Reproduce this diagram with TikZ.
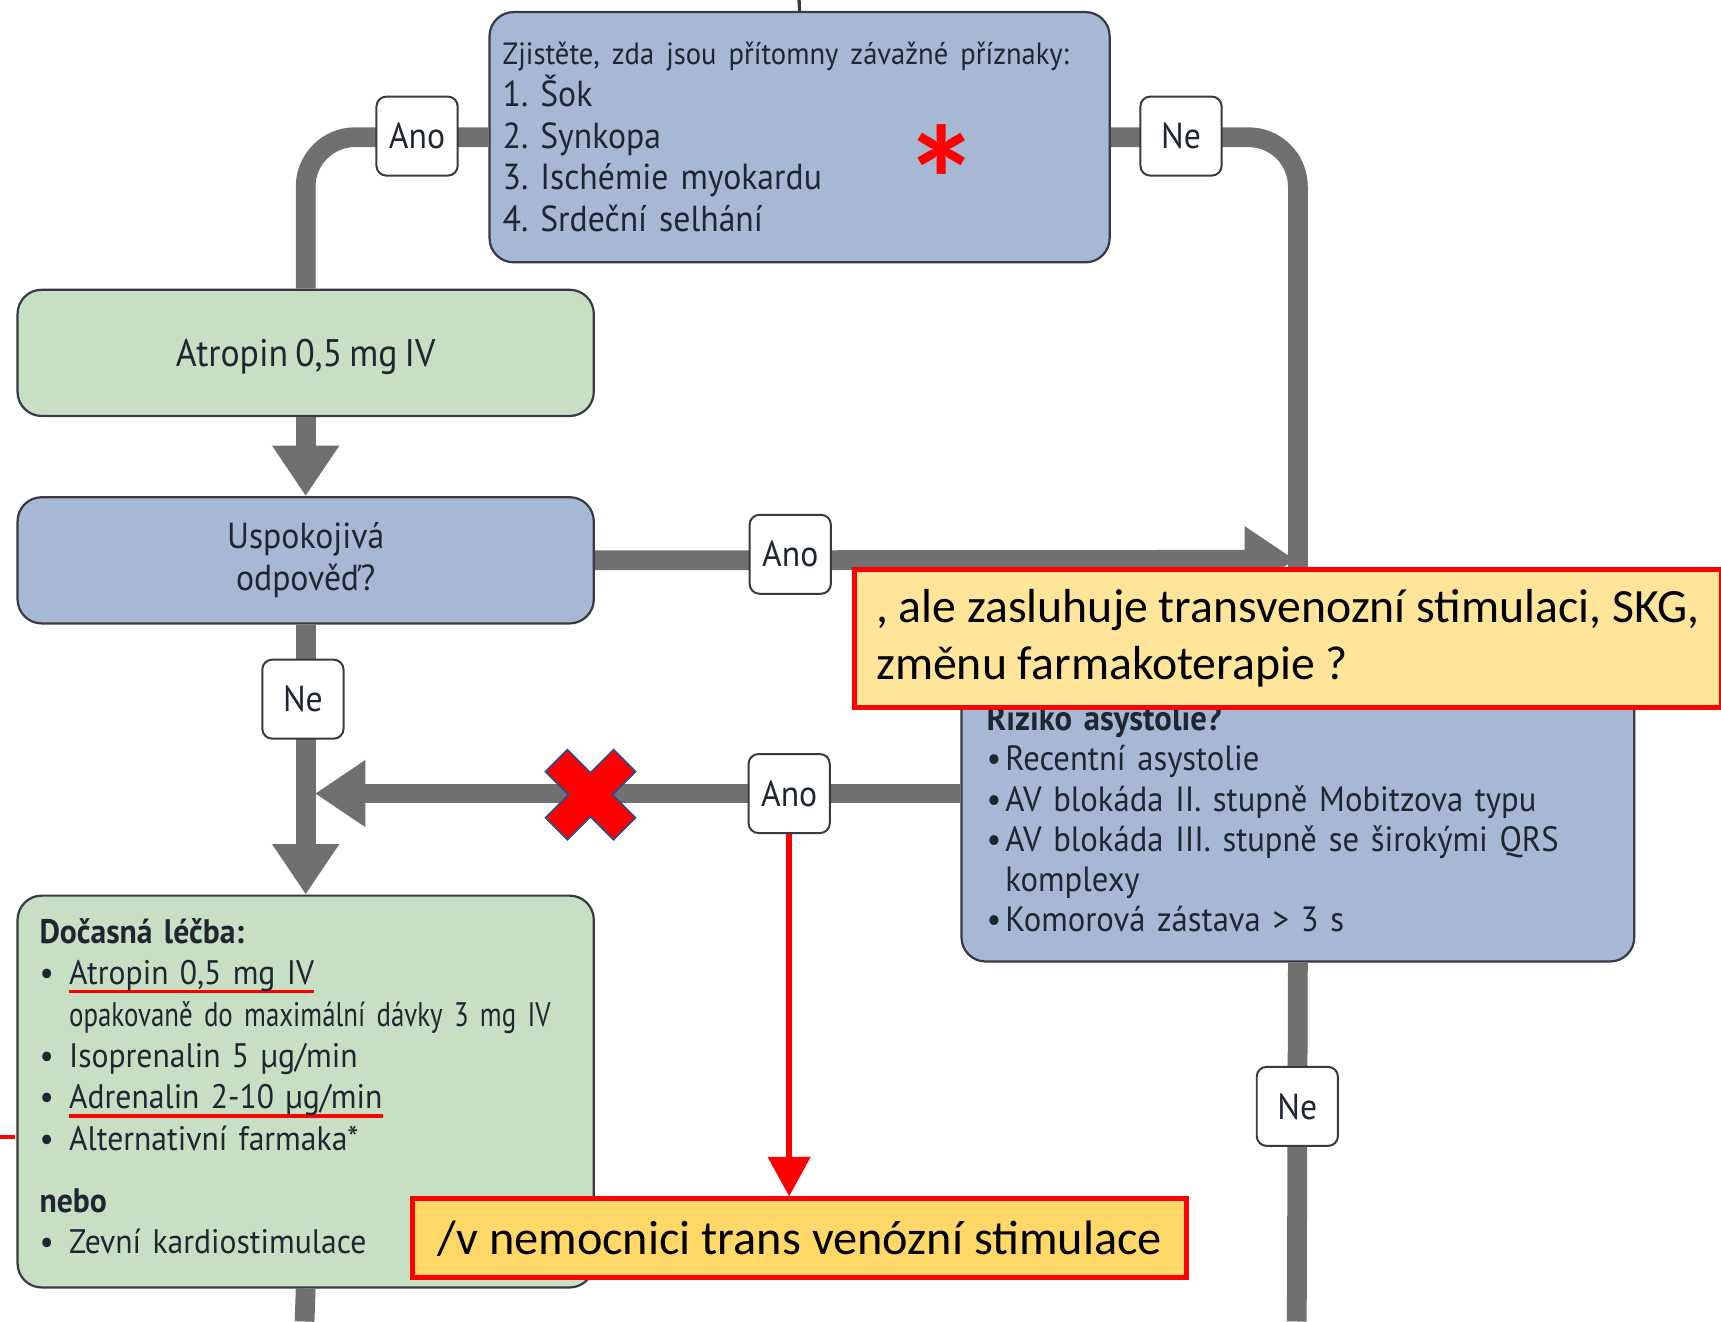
\documentclass[tikz,border=0pt]{standalone}
\usepackage{fontspec}
\usetikzlibrary{arrows.meta}
\newfontfamily\cf[FakeStretch=0.93, WordSpace=0.75]{PT Sans}
\newfontfamily\cfn[FakeStretch=0.79, WordSpace=0.75]{PT Sans}
\newfontfamily\calfont{Carlito}
\definecolor{boxblue}{RGB}{166,184,212}
\definecolor{boxgreen}{RGB}{199,223,195}
\definecolor{connc}{RGB}{112,112,112}
\definecolor{edgec}{RGB}{55,58,66}
\definecolor{txtc}{RGB}{32,37,50}
\definecolor{yelA}{RGB}{255,229,153}
\definecolor{yelB}{RGB}{255,216,104}
\definecolor{xblue}{RGB}{47,75,140}
\newcommand\redul[1]{\setbox0\hbox{#1}\rlap{\color{red}\rule[-8pt]{\wd0}{3pt}}\box0}
\newcommand\bul{\makebox[27pt][l]{\textbullet}}
\newcommand\rbul{\makebox[17pt][l]{\textbullet}}
\frenchspacing
\begin{document}
\begin{tikzpicture}[x=1pt,y=-1pt,
  box/.style={draw=edgec, line width=2pt, rounded corners=22pt, text=txtc,
    anchor=north west, font=\cf\fontsize{33}{38}\selectfont},
  lab/.style={draw=edgec, fill=white, line width=1.8pt, rounded corners=9pt,
    minimum width=74pt, minimum height=72pt, inner sep=0pt, text=txtc,
    font=\cf\fontsize{33}{33}\selectfont},
  flow/.style={draw=connc, line width=18pt},
  tipg/.style={-{Triangle[width=58pt,length=46pt]}},
  note/.style={draw=red, line width=4.5pt, text=black, anchor=north west, align=left},
]
\useasboundingbox (0,0) rectangle (1568,1204);
\fill[white] (0,0) rectangle (1568,1204);

% boxes
\node[box, fill=boxblue, minimum width=565pt, minimum height=228pt,
  inner xsep=12pt, text width=541pt, align=left] (q1) at (445,10)
  {{\fontsize{28}{38}\selectfont Zjistěte, zda jsou přítomny závažné příznaky:}\\
   1. Šok\\ 2. Synkopa\\ 3. Ischémie myokardu\\ 4. Srdeční selhání};
\node[box, fill=boxgreen, minimum width=525pt, minimum height=115pt, text depth=0pt,
  font=\cf\fontsize{35}{38}\selectfont] (atr) at (15,263)
  {Atropin 0,5 mg IV};
\node[box, fill=boxblue, minimum width=525pt, minimum height=115pt, align=center] (usp) at (15,452)
  {Uspokojivá\\ odpověď?};
\node[box, fill=boxgreen, minimum width=525pt, minimum height=357pt,
  inner xsep=20pt, text width=485pt, align=left,
  font=\cf\fontsize{31}{37.7}\selectfont] (doc) at (15,815)
  {\textbf{Dočasná léčba:}\\
   \bul\redul{Atropin 0,5 mg IV}\\
   \hspace*{27pt}{\cfn opakovaně do maximální dávky 3 mg IV}\\
   \bul Isoprenalin 5 µg/min\\
   \bul\redul{Adrenalin 2-10 µg/min}\\
   \bul Alternativní farmaka*\\[19pt]
   \textbf{nebo}\\
   \bul Zevní kardiostimulace\rule[-10pt]{0pt}{10pt}};
\node[box, fill=boxblue, minimum width=613pt, minimum height=260pt,
  inner xsep=23pt, text width=567pt, align=left,
  font=\cf\fontsize{32}{36.6}\selectfont] (riz) at (875,615)
  {\textbf{Riziko asystolie?}\\
   \rbul Recentní asystolie\\
   \rbul AV blokáda II. stupně Mobitzova typu\\
   \rbul AV blokáda III. stupně se širokými QRS\\
   \hspace*{17pt}komplexy\\
   \rbul Komorová zástava > 3 s};

% free ends
\coordinate (tt) at (728,0);
\coordinate (jr) at (1180,510);
\coordinate (jl) at (287,723);
\coordinate (rb) at (1181.5,1204);
\coordinate (db) at (277.5,1204);
\coordinate (lr0) at (0,1036);
\coordinate (lr1) at (14,1036);

% label positions
\path (380,124) coordinate (p1) (1076,124) coordinate (p2) (720,505) coordinate (p3)
      (276,637) coordinate (p4) (719,723) coordinate (p5) (1182,1008) coordinate (p6);

% connectors
\draw[edgec, line width=3pt] (tt) -- (q1.north);
\draw[flow, rounded corners=45pt] (q1.west) -- (q1.west -| atr.north) -- (atr.north);
\draw[flow, rounded corners=45pt] (q1.east) -| (riz.north);
\draw[flow, tipg] (atr.south) -- (usp.north);
\draw[flow, tipg] (usp.east) -- (jr);
\draw[flow, tipg] (usp.south) -- (doc.north);
\draw[flow, tipg] (riz.west |- p5) -- (jl);
\draw[flow] (riz.south) -- (rb);
\draw[flow] (doc.south) -- (db);

% labels
\node[lab] (l1) at (p1) {Ano};
\node[lab] (l2) at (p2) {Ne};
\node[lab] (l3) at (p3) {Ano};
\node[lab] (l4) at (p4) {Ne};
\node[lab] (l5) at (p5) {Ano};
\node[lab] (l6) at (p6) {Ne};

% red asterisk
\node[text=red, inner sep=0pt, font=\calfont\bfseries\fontsize{140}{140}\selectfont] (ast) at (858,164) {*};

% red cross
\begin{scope}[shift={(538,724)}]
\draw[fill=red, draw=xblue, line width=1.5pt]
  (-41,-21) -- (-21,-41) -- (0,-20) -- (21,-41) -- (41,-21) -- (20,0) --
  (41,21) -- (21,41) -- (0,20) -- (-21,41) -- (-41,21) -- (-20,0) -- cycle;
\end{scope}

% notes
\node[note, fill=yelA, minimum width=790pt, minimum height=125pt,
  font=\calfont\fontsize{43.5}{52}\selectfont] (y1) at (776,517)
  {, ale zasluhuje transvenozní stimulaci, SKG,\\ změnu farmakoterapie ?};
\node[note, fill=yelB, minimum width=705pt, minimum height=72pt,
  font=\calfont\fontsize{44}{52}\selectfont] (y2) at (374,1090)
  {/v nemocnici trans venózní stimulace};

% red arrow and mark
\draw[red, line width=5pt, -{Triangle[width=38pt,length=36pt]}] (l5.south) -- (l5.south |- y2.north);
\draw[red, line width=3pt] (lr0) -- (lr1);
\end{tikzpicture}
\end{document}
